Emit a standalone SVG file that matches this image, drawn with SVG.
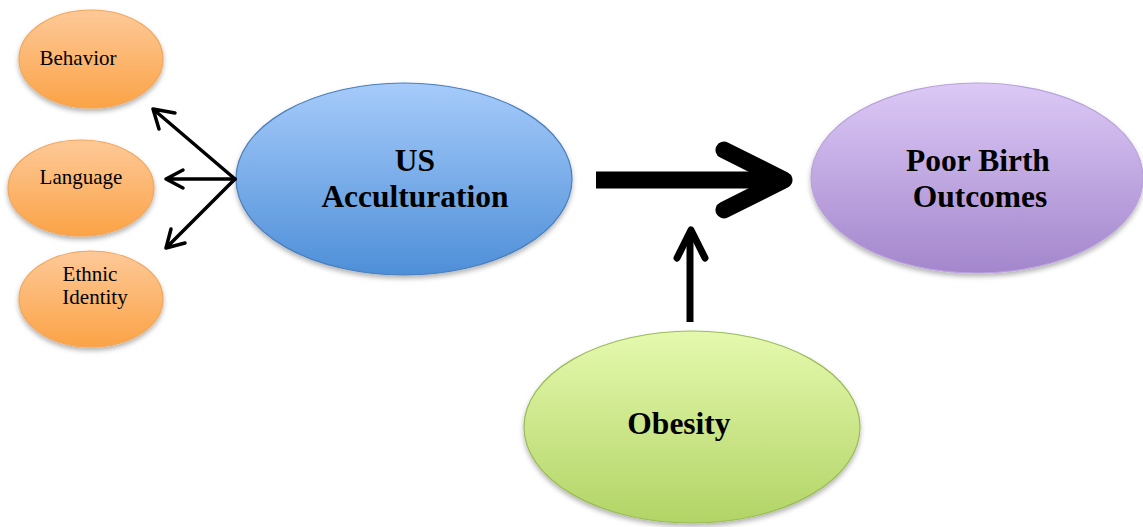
<svg xmlns="http://www.w3.org/2000/svg" width="1143" height="527" viewBox="0 0 1143 527">
<defs>
<linearGradient id="gOr" x1="0" y1="0" x2="0" y2="1"><stop offset="0" stop-color="#fdc998"/><stop offset="1" stop-color="#fba346"/></linearGradient>
<linearGradient id="gBl" x1="0" y1="0" x2="0" y2="1"><stop offset="0" stop-color="#a6cbfa"/><stop offset="1" stop-color="#4e8fd8"/></linearGradient>
<linearGradient id="gPu" x1="0" y1="0" x2="0" y2="1"><stop offset="0" stop-color="#dcc9f6"/><stop offset="1" stop-color="#a386cc"/></linearGradient>
<linearGradient id="gGr" x1="0" y1="0" x2="0" y2="1"><stop offset="0" stop-color="#e5f9ae"/><stop offset="1" stop-color="#b2d466"/></linearGradient>
<filter id="sh" x="-10%" y="-10%" width="120%" height="130%"><feDropShadow dx="0" dy="3" stdDeviation="2.5" flood-color="#000" flood-opacity="0.3"/></filter>
</defs>
<style>
.or{fill:url(#gOr);stroke:#f2a65a;stroke-width:1.2;filter:url(#sh)}
.bl{fill:url(#gBl);stroke:#4a7ebb;stroke-width:1.2;filter:url(#sh)}
.pu{fill:url(#gPu);stroke:#b9a2da;stroke-width:1.2;filter:url(#sh)}
.gr{fill:url(#gGr);stroke:#9bbb59;stroke-width:1.2;filter:url(#sh)}
.s{font-family:"Liberation Serif","Times New Roman",serif;font-size:21px;fill:#000;text-anchor:middle}
.b{font-family:"Liberation Serif","Times New Roman",serif;font-size:31.5px;font-weight:bold;fill:#000;text-anchor:middle}
.c{fill:none;stroke:#000;stroke-linejoin:round}
</style>
<g id="behavior"><ellipse class="or" cx="91" cy="59" rx="72" ry="49"/><text class="s" x="78" y="65">Behavior</text></g>
<g id="language"><ellipse class="or" cx="81" cy="188" rx="73" ry="48"/><text class="s" x="81" y="184">Language</text></g>
<g id="ethnic"><ellipse class="or" cx="91" cy="299" rx="72" ry="48"/><text class="s" x="90" y="281">Ethnic</text><text class="s" x="95" y="304">Identity</text></g>
<g id="us"><ellipse class="bl" cx="404" cy="179" rx="168" ry="96"/><text class="b" x="415" y="171">US</text><text class="b" x="415" y="207">Acculturation</text></g>
<g id="poor"><ellipse class="pu" cx="977" cy="178" rx="166" ry="95"/><text class="b" x="978" y="171">Poor Birth</text><text class="b" x="980" y="207">Outcomes</text></g>
<g id="obesity"><ellipse class="gr" cx="692" cy="427" rx="168" ry="96"/><text class="b" x="679" y="434">Obesity</text></g>
<g id="connectors">
<path class="c" style="stroke-linecap:round" stroke-width="3.5" d="M235 179 L153 109 M153 109 L175 113 M153 109 L159 129"/>
<path class="c" style="stroke-linecap:round" stroke-width="3.5" d="M235 179 L166 179 M166 179 L183 170 M166 179 L183 188"/>
<path class="c" style="stroke-linecap:round" stroke-width="3.5" d="M235 179 L166 248 M166 248 L171 229 M166 248 L185 243"/>
<path class="c" style="stroke-linecap:butt" stroke-width="17" d="M596 180 L772 180"/>
<path class="c" style="stroke-linecap:round" stroke-width="17" d="M724 150 L784 180 L724 210"/>
<path class="c" style="stroke-linecap:butt" stroke-width="7" d="M690 322 L690 232"/>
<path class="c" style="stroke-linecap:round" stroke-width="7" d="M677 258 L691 230 L705 258"/>
</g>
</svg>
